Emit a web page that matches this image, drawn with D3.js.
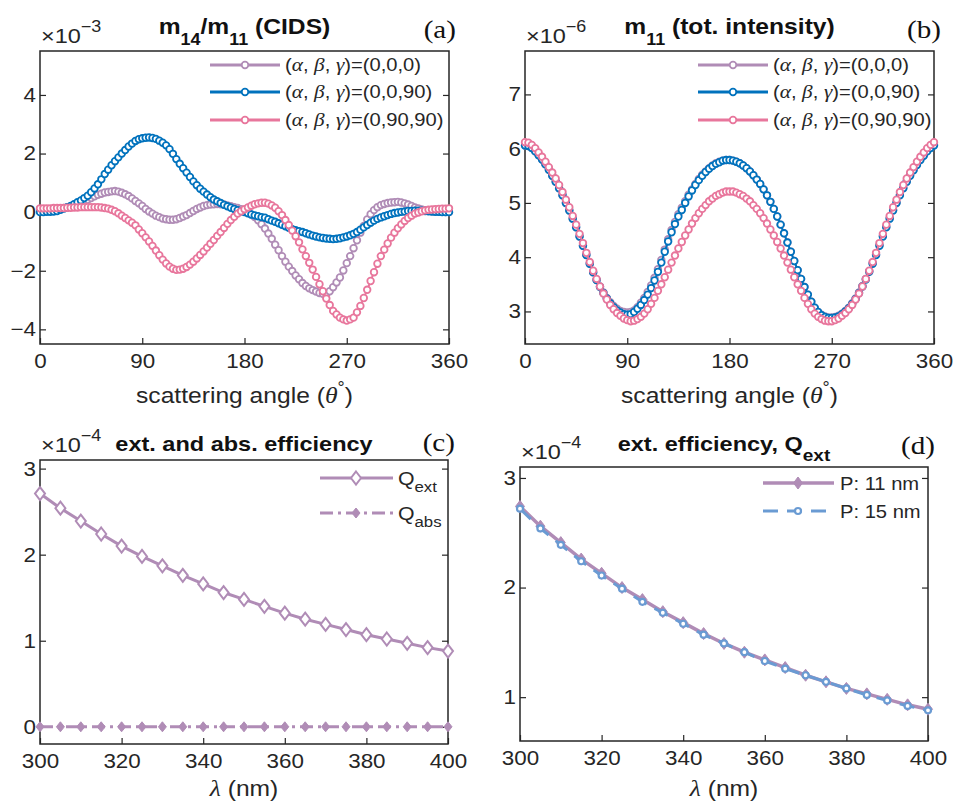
<!DOCTYPE html>
<meta charset="utf-8">
<style>
html, body {
    margin: 0;
    background: white;
}
svg {
    display: block;
    font-family: "Liberation Sans", Arial, sans-serif;
}
</style>
<body>
<script src="https://d3js.org/d3.v7.min.js"></script>
<script>

// ---- data -------------------------------------------------------------
// scattering angles (deg), sampled every 3 degrees
var angles = d3.range(0, 361, 3);

// panel (a): m14/m11, units of 1e-3
var cidsA = [0.10,0.10,0.10,0.10,0.10,0.11,0.12,0.14,0.16,0.19,
    0.22,0.26,0.31,0.36,0.42,0.48,0.54,0.59,0.63,0.67,
    0.69,0.71,0.72,0.70,0.66,0.61,0.55,0.47,0.38,0.30,
    0.21,0.11,0.02,-0.05,-0.12,-0.17,-0.22,-0.24,-0.26,-0.26,
    -0.24,-0.20,-0.15,-0.10,-0.03,0.04,0.11,0.16,0.21,0.24,
    0.26,0.27,0.28,0.27,0.26,0.23,0.20,0.17,0.14,0.10,
    0.06,0.00,-0.08,-0.17,-0.28,-0.41,-0.56,-0.73,-0.91,-1.11,
    -1.30,-1.50,-1.69,-1.86,-2.01,-2.16,-2.29,-2.42,-2.52,-2.60,
    -2.66,-2.71,-2.76,-2.79,-2.79,-2.70,-2.56,-2.40,-2.23,-1.99,
    -1.74,-1.50,-1.23,-0.96,-0.70,-0.47,-0.25,-0.07,0.07,0.17,
    0.24,0.28,0.31,0.33,0.34,0.35,0.33,0.30,0.26,0.21,
    0.16,0.13,0.09,0.07,0.05,0.03,0.02,0.01,0.01,0.00,
    0.00];
var cidsB = [0.00,0.00,0.01,0.01,0.02,0.04,0.08,0.12,0.17,0.21,
    0.27,0.34,0.40,0.48,0.56,0.68,0.81,0.95,1.12,1.30,
    1.45,1.60,1.74,1.87,2.00,2.12,2.24,2.34,2.43,2.49,
    2.52,2.54,2.55,2.53,2.50,2.44,2.37,2.28,2.15,1.99,
    1.81,1.65,1.50,1.35,1.20,1.05,0.92,0.80,0.70,0.60,
    0.51,0.43,0.37,0.31,0.25,0.20,0.15,0.11,0.07,0.03,
    0.00,-0.04,-0.08,-0.11,-0.14,-0.17,-0.19,-0.24,-0.29,-0.33,
    -0.38,-0.43,-0.48,-0.53,-0.58,-0.62,-0.65,-0.68,-0.72,-0.76,
    -0.80,-0.83,-0.86,-0.88,-0.90,-0.91,-0.92,-0.91,-0.89,-0.86,
    -0.83,-0.79,-0.74,-0.68,-0.60,-0.52,-0.44,-0.36,-0.29,-0.23,
    -0.18,-0.14,-0.10,-0.06,-0.03,-0.01,0.01,0.02,0.04,0.04,
    0.05,0.05,0.05,0.04,0.03,0.02,0.01,0.01,0.00,0.00,
    0.00];
var cidsC = [0.13,0.13,0.13,0.13,0.14,0.14,0.14,0.14,0.15,0.15,
    0.16,0.16,0.17,0.17,0.17,0.17,0.17,0.17,0.16,0.14,
    0.12,0.08,0.03,-0.04,-0.12,-0.20,-0.28,-0.36,-0.45,-0.59,
    -0.72,-0.86,-1.00,-1.15,-1.31,-1.47,-1.62,-1.75,-1.86,-1.93,
    -1.97,-1.96,-1.93,-1.87,-1.79,-1.69,-1.58,-1.46,-1.34,-1.21,
    -1.08,-0.95,-0.81,-0.68,-0.54,-0.40,-0.27,-0.16,-0.05,0.03,
    0.10,0.16,0.22,0.27,0.30,0.32,0.32,0.29,0.23,0.15,
    0.03,-0.10,-0.27,-0.44,-0.63,-0.82,-1.03,-1.27,-1.50,-1.73,
    -1.96,-2.21,-2.46,-2.70,-2.95,-3.17,-3.37,-3.49,-3.60,-3.66,
    -3.70,-3.66,-3.60,-3.42,-3.20,-2.93,-2.65,-2.35,-2.05,-1.76,
    -1.50,-1.28,-1.07,-0.87,-0.70,-0.55,-0.42,-0.30,-0.20,-0.12,
    -0.05,-0.01,0.03,0.06,0.08,0.09,0.10,0.11,0.12,0.12,
    0.13];

// panel (b): m11, units of 1e-6
var intA = [6.06,6.05,6.01,5.95,5.88,5.80,5.71,5.61,5.50,5.39,
    5.27,5.14,5.00,4.86,4.71,4.55,4.38,4.21,4.04,3.88,
    3.72,3.58,3.46,3.35,3.25,3.17,3.10,3.05,3.01,2.99,
    2.98,2.99,3.02,3.08,3.16,3.25,3.36,3.48,3.62,3.78,
    3.95,4.14,4.33,4.50,4.65,4.79,4.91,5.03,5.15,5.25,
    5.35,5.44,5.52,5.58,5.64,5.69,5.73,5.76,5.78,5.79,
    5.79,5.78,5.76,5.73,5.69,5.64,5.58,5.51,5.43,5.35,
    5.25,5.14,5.02,4.89,4.75,4.60,4.44,4.27,4.10,3.93,
    3.76,3.60,3.45,3.31,3.18,3.07,2.99,2.94,2.91,2.89,
    2.89,2.90,2.92,2.96,3.01,3.07,3.15,3.24,3.35,3.47,
    3.60,3.74,3.89,4.05,4.22,4.39,4.56,4.72,4.87,5.01,
    5.15,5.28,5.40,5.51,5.61,5.71,5.80,5.88,5.96,6.02,
    6.07];
var intB = [6.06,6.05,6.01,5.95,5.88,5.80,5.71,5.61,5.50,5.39,
    5.27,5.14,5.00,4.86,4.71,4.55,4.38,4.21,4.04,3.88,
    3.72,3.58,3.45,3.34,3.24,3.15,3.08,3.02,2.98,2.95,
    2.94,2.95,2.99,3.05,3.12,3.21,3.31,3.43,3.57,3.73,
    3.90,4.10,4.29,4.46,4.61,4.75,4.87,5.00,5.12,5.23,
    5.33,5.42,5.50,5.57,5.63,5.68,5.72,5.75,5.78,5.79,
    5.79,5.78,5.76,5.73,5.69,5.64,5.58,5.51,5.43,5.35,
    5.25,5.14,5.02,4.89,4.75,4.60,4.44,4.27,4.10,3.93,
    3.76,3.60,3.45,3.31,3.18,3.07,2.99,2.93,2.90,2.88,
    2.88,2.89,2.91,2.95,3.00,3.06,3.14,3.23,3.34,3.46,
    3.59,3.73,3.88,4.04,4.21,4.38,4.55,4.71,4.86,5.00,
    5.14,5.27,5.39,5.50,5.60,5.70,5.79,5.87,5.95,6.01,
    6.06];
var intC = [6.12,6.11,6.07,6.01,5.93,5.85,5.76,5.66,5.56,5.45,
    5.33,5.20,5.06,4.92,4.76,4.60,4.43,4.26,4.08,3.91,
    3.75,3.60,3.46,3.33,3.22,3.12,3.04,2.97,2.92,2.87,
    2.84,2.82,2.83,2.86,2.90,2.96,3.04,3.14,3.25,3.38,
    3.50,3.63,3.77,3.90,4.03,4.16,4.28,4.40,4.51,4.62,
    4.72,4.81,4.89,4.96,5.03,5.08,5.13,5.16,5.19,5.21,
    5.21,5.21,5.19,5.16,5.13,5.08,5.03,4.96,4.89,4.81,
    4.72,4.62,4.51,4.40,4.28,4.16,4.03,3.90,3.77,3.63,
    3.50,3.38,3.25,3.14,3.04,2.96,2.90,2.86,2.83,2.82,
    2.82,2.84,2.87,2.92,2.97,3.04,3.12,3.22,3.33,3.46,
    3.60,3.75,3.91,4.08,4.26,4.43,4.60,4.76,4.92,5.06,
    5.20,5.33,5.45,5.56,5.66,5.76,5.85,5.93,6.01,6.07,
    6.12];

// panels (c), (d): wavelength (nm) and efficiencies, units of 1e-4
var wavelengths = [300,305,310,315,320,325,330,335,340,345,350,355,360,365,370,375,380,385,390,395,400];
var qExt = [2.71,2.54,2.39,2.24,2.10,1.98,1.87,1.76,1.66,1.56,1.48,1.40,1.32,1.25,1.19,1.13,1.07,1.02,0.97,0.92,0.88];
var qAbs = [0,0,0,0,0,0,0,0,0,0,0,0,0,0,0,0,0,0,0,0,0];
var qExtP11 = [2.74,2.56,2.41,2.26,2.13,2.00,1.89,1.78,1.68,1.58,1.49,1.41,1.34,1.27,1.20,1.14,1.08,1.03,0.98,0.93,0.89];
var qExtP15 = [2.72,2.54,2.39,2.24,2.11,1.99,1.87,1.77,1.67,1.57,1.49,1.41,1.33,1.26,1.20,1.14,1.08,1.02,0.97,0.92,0.88];

var angleTicks = [0, 90, 180, 270, 360];
var lambdaTicks = [300, 320, 340, 360, 380, 400];

// ---- look -------------------------------------------------------------
var ink = "#262626";
var purple = "#B08CB6",
    blue = "#0072BD",
    pink = "#E8769C",
    lightBlue = "#6A9BD3";
var serif = "'Liberation Serif', 'Times New Roman', serif";
var stretch = 1.12;   // the figure's lettering is a bit wider than plain Arial

var width = 953,
    height = 803;

var svg = d3.select("body").append("svg")
    .attr("width", width)
    .attr("height", height);

svg.append("rect").attr("width", width).attr("height", height).attr("fill", "white");

// text with sub/superscript pieces
function richText(g, x, y, parts, o) {
    var t = g.append("text")
        .attr("x", x).attr("y", y)
        .attr("font-size", o.size)
        .attr("text-anchor", o.anchor || "start")
        .attr("font-weight", o.weight || "normal")
        .attr("fill", o.fill || ink);
    if (o.family) t.attr("font-family", o.family);
    var shift = 0;
    parts.forEach(function(p) {
        var s = t.append("tspan").text(p.t);
        var target = p.sub ? (o.subDy || o.size * 0.5) : p.sup ? -(o.supDy || o.size * 0.5) : 0;
        if (target - shift !== 0) s.attr("dy", target - shift);
        shift = target;
        if (p.sub || p.sup) s.attr("font-size", p.size || o.size * 0.72);
        if (p.italic) s.attr("font-style", "italic");
        if (p.family) s.attr("font-family", p.family);
        if (p.size && !(p.sub || p.sup)) s.attr("font-size", p.size);
    });
    return t;
}

function makePanel(box, xDomain, yDomain, xTicks, yTicks) {
    var g = svg.append("g");
    var x = d3.scaleLinear().domain(xDomain).range([box.x0, box.x1]);
    var y = d3.scaleLinear().domain(yDomain).range([box.y1, box.y0]);

    function style(a) {
        a.select(".domain").remove();
        a.attr("font-family", null).attr("font-size", 20);
        a.selectAll("line").attr("stroke", ink).attr("stroke-width", 1.2);
        a.selectAll("text").attr("fill", ink);
    }
    g.append("g").attr("transform", "translate(0," + box.y1 + ")")
        .call(d3.axisBottom(x).tickValues(xTicks).tickSize(-6).tickPadding(10).tickFormat(d3.format("d")))
        .call(style);
    g.append("g").attr("transform", "translate(0," + box.y0 + ")")
        .call(d3.axisTop(x).tickValues(xTicks).tickSize(0).tickFormat(""))
        .call(style);
    g.append("g").attr("transform", "translate(" + box.x0 + ",0)")
        .call(d3.axisLeft(y).tickValues(yTicks).tickSize(-6).tickPadding(4).tickFormat(d3.format("d")))
        .call(style);
    g.append("g").attr("transform", "translate(" + box.x1 + ",0)")
        .call(d3.axisRight(y).tickValues(yTicks).tickSize(-6).tickFormat(""))
        .call(style);

    g.append("rect")
        .attr("x", box.x0).attr("y", box.y0)
        .attr("width", box.x1 - box.x0).attr("height", box.y1 - box.y0)
        .attr("fill", "none").attr("stroke", ink).attr("stroke-width", 1.5);

    return {g: g, x: x, y: y, box: box};
}

function diamond(w, h) {
    return "M0," + (-h) + "L" + w + ",0L0," + h + "L" + (-w) + ",0Z";
}

function circleSeries(p, xs, ys, color) {
    var line = d3.line().x(function(d, i) { return p.x(xs[i]); }).y(function(d) { return p.y(d); });
    var s = p.g.append("g");
    s.append("path").datum(ys).attr("d", line)
        .attr("fill", "none").attr("stroke", color).attr("stroke-width", 2);
    s.selectAll("circle").data(ys).enter().append("circle")
        .attr("cx", function(d, i) { return p.x(xs[i]); })
        .attr("cy", function(d) { return p.y(d); })
        .attr("r", 3.3)
        .attr("fill", "white").attr("stroke", color).attr("stroke-width", 1.8);
}

function angleLegend(p, x0, rows) {
    var names = ["(0,0,0)", "(0,0,90)", "(0,90,90)"];
    var colors = [purple, blue, pink];
    names.forEach(function(n, i) {
        var yy = rows[i];
        p.g.append("line").attr("x1", x0).attr("x2", x0 + 70).attr("y1", yy).attr("y2", yy)
            .attr("stroke", colors[i]).attr("stroke-width", 3);
        p.g.append("circle").attr("cx", x0 + 35).attr("cy", yy).attr("r", 3.3)
            .attr("fill", "white").attr("stroke", colors[i]).attr("stroke-width", 1.8);
        richText(p.g, x0 + 75, yy + 6, [
            {t: "("},
            {t: "α", italic: true, family: serif, size: 19},
            {t: ", "},
            {t: "β", italic: true, family: serif, size: 19},
            {t: ", "},
            {t: "γ", italic: true, family: serif, size: 19},
            {t: ")=" + n}
        ], {size: 18});
    });
}

function exponent(p, txt) {
    richText(p.g, p.box.x0 + 1, p.box.y0 - 8, [{t: "×10"}, {t: txt, sup: true, size: 16}],
        {size: 21, supDy: 11});
}

function tag(p, txt, y) {
    p.g.append("text").attr("x", p.box.x1 + 7).attr("y", y)
        .attr("text-anchor", "end").attr("font-family", serif)
        .attr("font-size", 26).attr("fill", "#111").text(txt);
}

// ---- (a) ----------------------------------------------------------------
var pa = makePanel({x0: 40, x1: 449, y0: 51, y1: 344}, [0, 360], [-4.5, 5.5], angleTicks, [-4, -2, 0, 2, 4]);
circleSeries(pa, angles, cidsA, purple);
circleSeries(pa, angles, cidsB, blue);
circleSeries(pa, angles, cidsC, pink);
angleLegend(pa, 210, [65, 92, 120]);
exponent(pa, "−3");
richText(pa.g, 244.5, 34, [{t: "m"}, {t: "14", sub: true, size: 16}, {t: "/m"}, {t: "11", sub: true, size: 16}, {t: " (CIDS)"}],
    {size: 22, weight: "bold", anchor: "middle", subDy: 11, fill: "#111"});
tag(pa, "(a)", 38);

// ---- (b) ----------------------------------------------------------------
var pb = makePanel({x0: 525, x1: 934, y0: 51, y1: 344}, [0, 360], [2.4, 7.8], angleTicks, [3, 4, 5, 6, 7]);
circleSeries(pb, angles, intA, purple);
circleSeries(pb, angles, intB, blue);
circleSeries(pb, angles, intC, pink);
angleLegend(pb, 698, [65, 92, 120]);
exponent(pb, "−6");
richText(pb.g, 729.5, 34, [{t: "m"}, {t: "11", sub: true, size: 16}, {t: " (tot. intensity)"}],
    {size: 22, weight: "bold", anchor: "middle", subDy: 11, fill: "#111"});
tag(pb, "(b)", 38);

[pa, pb].forEach(function(p) {
    richText(p.g, (p.box.x0 + p.box.x1) / 2, 403, [
        {t: "scattering angle ("},
        {t: "θ", italic: true, family: serif, size: 23},
        {t: "°", sup: true, size: 16},
        {t: ")"}
    ], {size: 22, anchor: "middle", supDy: 10});
});

// ---- (c) ----------------------------------------------------------------
var pc = makePanel({x0: 40, x1: 448, y0: 460, y1: 744}, [300, 400], [-0.2, 3.1], lambdaTicks, [0, 1, 2, 3]);
var lineC = d3.line().x(function(d, i) { return pc.x(wavelengths[i]); }).y(function(d) { return pc.y(d); });
pc.g.append("path").datum(qAbs).attr("d", lineC).attr("fill", "none")
    .attr("stroke", purple).attr("stroke-width", 3).attr("stroke-dasharray", "13,5,3,5");
pc.g.selectAll(".abs").data(qAbs).enter().append("path")
    .attr("transform", function(d, i) { return "translate(" + pc.x(wavelengths[i]) + "," + pc.y(d) + ")"; })
    .attr("d", diamond(4, 5)).attr("fill", purple).attr("stroke", purple).attr("stroke-width", 1);
pc.g.append("path").datum(qExt).attr("d", lineC).attr("fill", "none")
    .attr("stroke", purple).attr("stroke-width", 3);
pc.g.selectAll(".ext").data(qExt).enter().append("path")
    .attr("transform", function(d, i) { return "translate(" + pc.x(wavelengths[i]) + "," + pc.y(d) + ")"; })
    .attr("d", diamond(5, 6.5)).attr("fill", "white").attr("stroke", purple).attr("stroke-width", 2);
// legend
pc.g.append("line").attr("x1", 320).attr("x2", 393).attr("y1", 478).attr("y2", 478)
    .attr("stroke", purple).attr("stroke-width", 3);
pc.g.append("path").attr("transform", "translate(356,478)").attr("d", diamond(5, 6.5))
    .attr("fill", "white").attr("stroke", purple).attr("stroke-width", 2);
pc.g.append("line").attr("x1", 320).attr("x2", 393).attr("y1", 513).attr("y2", 513)
    .attr("stroke", purple).attr("stroke-width", 3).attr("stroke-dasharray", "13,5,3,5");
pc.g.append("path").attr("transform", "translate(356,513)").attr("d", diamond(4, 5))
    .attr("fill", purple).attr("stroke", purple);
richText(pc.g, 398, 485, [{t: "Q"}, {t: "ext", sub: true, size: 15}], {size: 19, subDy: 7});
richText(pc.g, 398, 520, [{t: "Q"}, {t: "abs", sub: true, size: 15}], {size: 19, subDy: 7});
exponent(pc, "−4");
pc.g.append("text").attr("x", 244).attr("y", 451).attr("text-anchor", "middle")
    .attr("font-size", 21).attr("font-weight", "bold").attr("fill", "#111")
    .text("ext. and abs. efficiency");
tag(pc, "(c)", 451);

// ---- (d) ----------------------------------------------------------------
var pd = makePanel({x0: 520, x1: 928, y0: 467, y1: 741}, [300, 400], [0.6, 3.1], lambdaTicks, [1, 2, 3]);
var lineD = d3.line().x(function(d, i) { return pd.x(wavelengths[i]); }).y(function(d) { return pd.y(d); });
pd.g.append("path").datum(qExtP11).attr("d", lineD).attr("fill", "none")
    .attr("stroke", purple).attr("stroke-width", 3.5);
pd.g.selectAll(".p11").data(qExtP11).enter().append("path")
    .attr("transform", function(d, i) { return "translate(" + pd.x(wavelengths[i]) + "," + pd.y(d) + ")"; })
    .attr("d", diamond(4.5, 6)).attr("fill", purple).attr("stroke", purple);
pd.g.append("path").datum(qExtP15).attr("d", lineD).attr("fill", "none")
    .attr("stroke", lightBlue).attr("stroke-width", 3).attr("stroke-dasharray", "15,9");
pd.g.selectAll(".p15").data(qExtP15).enter().append("circle")
    .attr("cx", function(d, i) { return pd.x(wavelengths[i]); })
    .attr("cy", function(d) { return pd.y(d); })
    .attr("r", 3).attr("fill", "white").attr("stroke", lightBlue).attr("stroke-width", 2.2);
// legend
pd.g.append("line").attr("x1", 763).attr("x2", 834).attr("y1", 483).attr("y2", 483)
    .attr("stroke", purple).attr("stroke-width", 3.5);
pd.g.append("path").attr("transform", "translate(798,483)").attr("d", diamond(4.5, 6))
    .attr("fill", purple).attr("stroke", purple);
pd.g.append("line").attr("x1", 763).attr("x2", 834).attr("y1", 511).attr("y2", 511)
    .attr("stroke", lightBlue).attr("stroke-width", 3).attr("stroke-dasharray", "15,9");
pd.g.append("circle").attr("cx", 798).attr("cy", 511).attr("r", 3)
    .attr("fill", "white").attr("stroke", lightBlue).attr("stroke-width", 2.2);
richText(pd.g, 840, 490, [{t: "P: 11 nm"}], {size: 18});
richText(pd.g, 840, 518, [{t: "P: 15 nm"}], {size: 18});
exponent(pd, "−4");
richText(pd.g, 724, 451, [{t: "ext. efficiency, Q"}, {t: "ext", sub: true, size: 17}],
    {size: 21, weight: "bold", anchor: "middle", subDy: 10, fill: "#111"});
tag(pd, "(d)", 454);

[pc, pd].forEach(function(p) {
    richText(p.g, (p.box.x0 + p.box.x1) / 2, 796, [
        {t: "λ", italic: true, family: serif, size: 23},
        {t: " (nm)"}
    ], {size: 22, anchor: "middle"});
});

// widen all lettering a little around each text's anchor point
svg.selectAll("text").each(function() {
    var t = d3.select(this);
    var px = +t.attr("x") || 0;
    var prev = t.attr("transform") || "";
    t.attr("transform", prev + " translate(" + px + ",0) scale(" + stretch + ",1) translate(" + (-px) + ",0)");
});

</script>
</body>
